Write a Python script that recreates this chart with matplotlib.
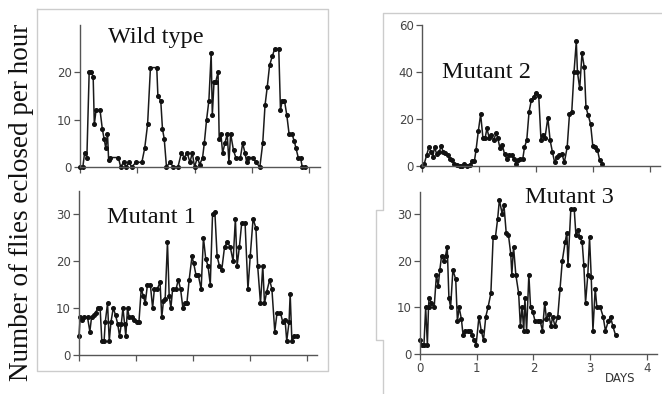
import matplotlib
matplotlib.use("Agg")
import matplotlib.pyplot as plt
from matplotlib.lines import Line2D

# Eclosion counts (time in days, flies per hour)
wt_days = [0, 0.05, 0.08, 0.12, 0.16, 0.2, 0.23, 0.25, 0.28, 0.35, 0.39, 0.42, 0.45, 0.48, 0.5,
           0.53, 0.67, 0.71, 0.76, 0.8, 0.86, 0.9, 0.98, 1.08, 1.13, 1.18, 1.23, 1.34, 1.36, 1.41,
           1.44, 1.47, 1.51, 1.57, 1.63, 1.71, 1.77, 1.82, 1.87, 1.92, 1.96, 2.0, 2.05, 2.09, 2.14,
           2.17, 2.21, 2.25, 2.29, 2.31, 2.34, 2.37, 2.41, 2.43, 2.46, 2.49, 2.53, 2.57, 2.6, 2.63,
           2.68, 2.72, 2.8, 2.84, 2.88, 2.91, 2.94, 3.02, 3.07, 3.14, 3.19, 3.23, 3.27, 3.31, 3.36,
           3.4, 3.47, 3.5, 3.53, 3.57, 3.61, 3.65, 3.7, 3.74, 3.77, 3.81, 3.85, 3.88, 3.93]
wt_flies = [0, 0, 3, 2, 20, 20, 19, 9, 12, 12, 8, 6, 4, 7, 1.5,
            2, 2, 0, 1, 0, 1, 0, 1, 1, 4, 9, 21, 21, 15, 14,
            8, 6, 0, 1, 0, 0, 3, 2, 3, 1, 3, 0, 2, 0.5, 2,
            5, 10, 14, 24, 11, 18, 18, 20, 6, 7, 3, 5, 7, 1, 7,
            3.5, 2, 2, 5, 3, 1, 2, 2, 1, 0, 5, 13, 17, 21.5, 23.5,
            25, 25, 12, 14, 14, 11, 7, 7, 5.5, 4, 2, 2, 0, 0]

m1_days = [0, 0.02, 0.06, 0.09, 0.15, 0.19, 0.22, 0.26, 0.29, 0.33, 0.37, 0.4, 0.44, 0.46, 0.5,
           0.53, 0.56, 0.6, 0.64, 0.68, 0.71, 0.74, 0.77, 0.8, 0.82, 0.85, 0.88, 0.92, 0.96, 1.01,
           1.05, 1.09, 1.13, 1.16, 1.2, 1.25, 1.29, 1.32, 1.37, 1.42, 1.45, 1.48, 1.51, 1.55, 1.58,
           1.61, 1.64, 1.7, 1.74, 1.78, 1.82, 1.86, 1.89, 1.93, 1.98, 2.01, 2.05, 2.09, 2.14, 2.18,
           2.22, 2.26, 2.3, 2.34, 2.38, 2.42, 2.46, 2.5, 2.55, 2.6, 2.65, 2.7, 2.74, 2.77, 2.81,
           2.85, 2.91, 2.96, 3.0, 3.05, 3.1, 3.13, 3.18, 3.22, 3.25, 3.29, 3.34, 3.38, 3.43, 3.47,
           3.53, 3.57, 3.61, 3.64, 3.68, 3.7, 3.73, 3.77, 3.82]
m1_flies = [4, 8, 7.5, 8, 8, 5, 8, 8.5, 9, 10, 10, 3, 3, 7, 11,
            3, 7, 10, 8.5, 6.5, 4, 6.5, 10, 6.5, 4, 10, 8, 8, 7.5, 7,
            7, 14, 12.5, 11, 15, 15, 10, 14, 14, 15.5, 8, 11.5, 12, 24, 12.5,
            10, 14, 14, 16, 14, 10, 11, 11, 16, 21, 19.5, 17, 17, 14, 25,
            20.5, 19, 15, 30, 30.5, 21, 19, 18, 23, 24, 23, 20, 29, 19, 23,
            28, 28, 14, 21, 29, 27, 19, 11, 19, 11, 13.5, 16, 14, 5, 9,
            9, 7, 7.5, 3, 7, 13, 3, 4, 4]

m2_days = [0, 0.04, 0.08, 0.12, 0.16, 0.19, 0.22, 0.26, 0.3, 0.34, 0.37, 0.41, 0.45, 0.49, 0.53,
           0.57, 0.61, 0.66, 0.7, 0.74, 0.79, 0.84, 0.88, 0.92, 0.95, 0.99, 1.03, 1.07, 1.11, 1.14,
           1.18, 1.22, 1.26, 1.3, 1.33, 1.37, 1.41, 1.45, 1.49, 1.53, 1.58, 1.62, 1.65, 1.68, 1.72,
           1.77, 1.8, 1.84, 1.88, 1.92, 1.96, 2.0, 2.05, 2.09, 2.12, 2.16, 2.21, 2.25, 2.29, 2.33,
           2.37, 2.41, 2.46, 2.5, 2.55, 2.59, 2.63, 2.67, 2.71, 2.73, 2.77, 2.81, 2.85, 2.88, 2.92,
           2.96, 3.0, 3.04, 3.08, 3.12, 3.16]
m2_flies = [0, 1, 4.5, 8, 6, 4, 8, 5, 6, 8.5, 6, 5.5, 4.5, 3, 2.5,
            1, 0.5, 0, 0, 1, 0, 0.5, 2, 2, 7, 15, 22, 12, 12, 16,
            12, 13, 11, 14, 12, 7.5, 9, 5, 3, 4.5, 4.5, 3, 1, 2.5, 3,
            3, 8, 11, 23, 28, 29.5, 31, 30, 11, 13, 12, 20.5, 11, 6, 1.5,
            4, 4.5, 5, 1.5, 8, 22, 23, 40, 53, 40, 33, 48, 42, 25, 21.5,
            18, 8.5, 8, 7, 2.5, 1]

m3_days = [0, 0.03, 0.07, 0.1, 0.13, 0.15, 0.16, 0.2, 0.25, 0.29, 0.32, 0.35, 0.38, 0.42, 0.45,
           0.48, 0.51, 0.54, 0.58, 0.63, 0.66, 0.69, 0.73, 0.76, 0.8, 0.85, 0.89, 0.92, 0.95, 0.99,
           1.04, 1.08, 1.12, 1.16, 1.2, 1.25, 1.29, 1.33, 1.37, 1.4, 1.45, 1.48, 1.52, 1.56, 1.6,
           1.62, 1.65, 1.69, 1.74, 1.77, 1.8, 1.83, 1.85, 1.88, 1.92, 1.95, 1.99, 2.03, 2.08, 2.12,
           2.16, 2.2, 2.23, 2.27, 2.31, 2.34, 2.38, 2.43, 2.47, 2.51, 2.56, 2.59, 2.61, 2.66, 2.72,
           2.75, 2.79, 2.82, 2.86, 2.89, 2.92, 2.96, 2.99, 3.02, 3.05, 3.09, 3.12, 3.18, 3.23, 3.27,
           3.32, 3.36, 3.4, 3.45]
m3_flies = [3, 2, 2, 10, 2, 10, 12, 11, 10, 17, 14.5, 18, 21, 20, 21,
            23, 12, 10, 18, 16, 7, 10, 7.5, 4, 5, 5, 5, 4, 3, 2,
            8, 5, 3, 8, 10, 13, 25, 25, 29, 33, 30, 32, 26, 25.5, 21.5,
            17, 23, 17, 13, 6, 10, 5, 12, 5, 17, 10, 9, 7, 7, 7,
            5, 11, 7.5, 8.5, 6, 8, 6, 8, 14, 20, 24, 26, 19, 31, 31,
            25.5, 26.5, 25, 24, 19, 11, 17, 25, 16.5, 5, 14, 10, 10, 8, 5,
            7, 8, 6, 4]

day_ticks = [0, 1, 2, 3, 4]

W, H = 662, 394
fig = plt.figure(figsize=(W / 100, H / 100), dpi=100)
fig.patch.set_facecolor("white")


def rect(left, right, bottom, top):
    return [left / W, 1 - bottom / H, (right - left) / W, (bottom - top) / H]


tick_font = {"family": "DejaVu Sans", "size": 8.5, "color": "#444444"}
title_font = {"family": "Liberation Serif", "size": 17.5, "color": "#111111"}


def panel(pos, xlim, ylim, yticks, days, flies, title, title_xy, xlabels=False):
    ax = fig.add_axes(rect(*pos))
    ax.plot(days, flies, color="#1a1a1a", lw=1.1, marker="o", ms=2.6,
            mfc="#111111", mec="#111111", clip_on=False)
    ax.set_xlim(*xlim)
    ax.set_ylim(*ylim)
    ax.spines[["top", "right"]].set_visible(False)
    for s in ["left", "bottom"]:
        ax.spines[s].set_color("#555555")
        ax.spines[s].set_linewidth(1.0)
    ax.set_yticks(yticks)
    ax.set_yticklabels([str(t) for t in yticks], fontdict=tick_font)
    ax.set_xticks(day_ticks)
    if xlabels:
        ax.set_xticklabels([str(t) for t in day_ticks], fontdict=tick_font)
    else:
        ax.set_xticklabels([])
    ax.tick_params(direction="out", length=4, width=0.9, color="#555555", pad=2)
    fig.text(title_xy[0] / W, 1 - title_xy[1] / H, title, fontdict=title_font,
             ha="left", va="baseline")
    return ax


panel((80, 320, 167, 25), (0, 4.19), (0, 30), [0, 10, 20],
      wt_days, wt_flies, "Wild type", (108, 43))
panel((79, 317, 355, 191), (0, 4.17), (0, 34.9), [0, 10, 20, 30],
      m1_days, m1_flies, "Mutant 1", (107, 223))
panel((422, 660, 166, 25), (0, 4.18), (0, 60), [0, 20, 40, 60],
      m2_days, m2_flies, "Mutant 2", (442, 78))
panel((420, 657, 354, 192), (0, 4.18), (0, 34.7), [0, 10, 20, 30],
      m3_days, m3_flies, "Mutant 3", (525, 203), xlabels=True)

fig.text(620 / W, 1 - 378 / H, "DAYS", fontdict={"family": "DejaVu Sans", "size": 8.5,
                                                 "color": "#333333"}, ha="center", va="center")

fig.text(22 / W, 1 - 202 / H, "Number of flies eclosed per hour", rotation=90,
         ha="center", va="center", family="Liberation Serif", fontsize=19.5, color="#111111")

# light frames left over from the scanned page
frame = "#cccccc"
fig.add_artist(Line2D([37 / W, 328 / W, 328 / W, 37 / W, 37 / W],
                      [1 - 9 / H, 1 - 9 / H, 1 - 371 / H, 1 - 371 / H, 1 - 9 / H],
                      color=frame, lw=1.0))
fig.add_artist(Line2D([W / W, 383 / W, 383 / W, 376 / W, 376 / W, 383 / W, 383 / W],
                      [1 - 13 / H, 1 - 13 / H, 1 - 210 / H, 1 - 210 / H, 1 - 340 / H,
                       1 - 340 / H, 0],
                      color=frame, lw=1.0))

fig.savefig("out.png", dpi=100)
